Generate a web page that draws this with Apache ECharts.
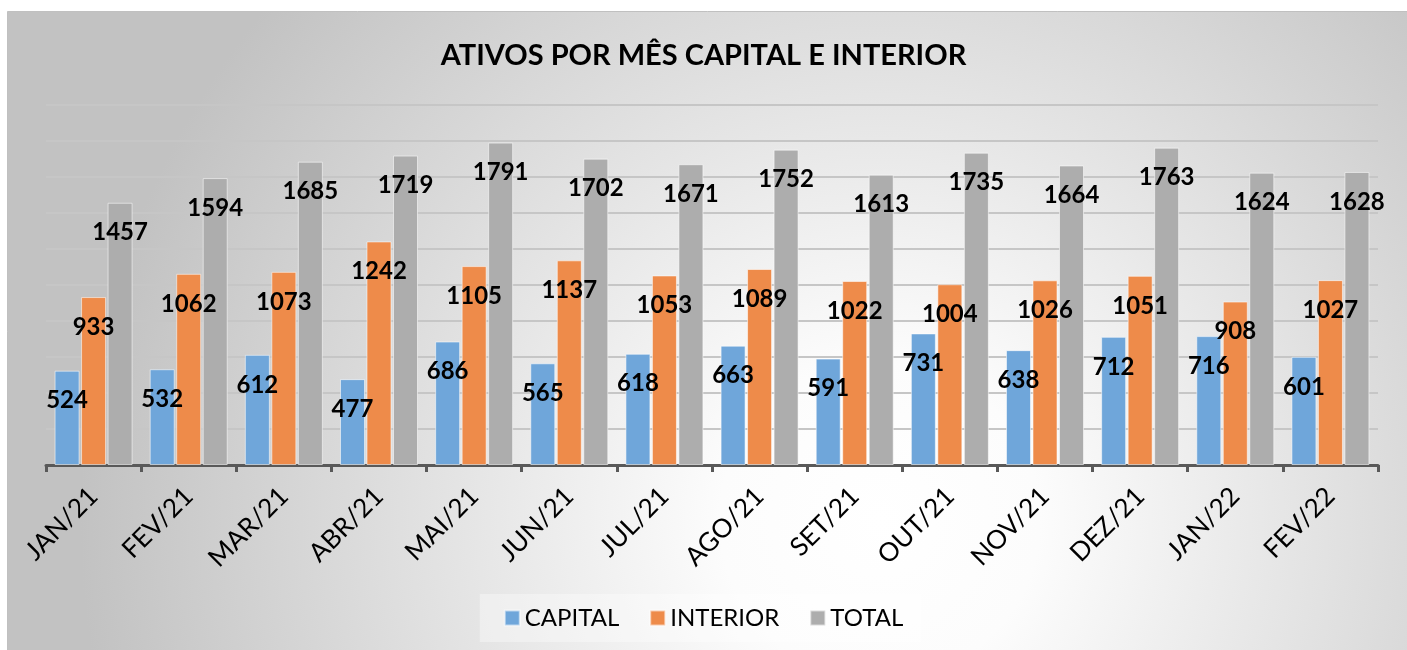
<!DOCTYPE html>
<html>
<head>
<meta charset="utf-8">
<script src="https://cdn.jsdelivr.net/npm/echarts@6/dist/echarts.min.js"></script>
<style>
  html, body { margin: 0; padding: 0; background: #fff; }
  #chart { width: 1407px; height: 650px; }
</style>
</head>
<body>
<div id="chart"></div>
<script>
// values
var months = ['JAN/21', 'FEV/21', 'MAR/21', 'ABR/21', 'MAI/21', 'JUN/21', 'JUL/21',
              'AGO/21', 'SET/21', 'OUT/21', 'NOV/21', 'DEZ/21', 'JAN/22', 'FEV/22'];
var capital  = [524, 532, 612, 477, 686, 565, 618, 663, 591, 731, 638, 712, 716, 601];
var interior = [933, 1062, 1073, 1242, 1105, 1137, 1053, 1089, 1022, 1004, 1026, 1051, 908, 1027];
var total    = [1457, 1594, 1685, 1719, 1791, 1702, 1671, 1752, 1613, 1735, 1664, 1763, 1624, 1628];

var font = 'Lato, "Open Sans", sans-serif';

function barSeries(name, data, color) {
  return {
    name: name,
    type: 'bar',
    data: data,
    barWidth: 25,
    barGap: '6%',
    itemStyle: {
      color: color,
      borderColor: 'rgba(255,255,255,0.55)',
      borderWidth: 1
    },
    label: {
      show: true,
      position: 'insideTop',
      distance: 18,
      color: '#000',
      fontFamily: font,
      fontWeight: 'bold',
      fontSize: 24
    }
  };
}

var chart = echarts.init(document.getElementById('chart'));
chart.setOption({
  backgroundColor: '#fff',
  graphic: [{
    type: 'rect',
    z: -10,
    silent: true,
    shape: { x: 7.5, y: 11.5, width: 1420, height: 660 },
    style: {
      fill: new echarts.graphic.RadialGradient(880, 520, 800, [
        { offset: 0, color: '#ffffff' },
        { offset: 0.2, color: '#fcfcfc' },
        { offset: 1, color: '#c2c2c2' }
      ], true),
      stroke: '#c0c0c0',
      lineWidth: 1
    }
  }],
  title: {
    text: 'ATIVOS POR MÊS CAPITAL E INTERIOR',
    left: 'center',
    top: 36,
    textStyle: { fontFamily: font, fontWeight: 'bold', fontSize: 29, color: '#000' }
  },
  legend: {
    bottom: 8,
    left: 'center',
    itemWidth: 15,
    itemHeight: 15,
    itemGap: 30,
    icon: 'rect',
    padding: [12, 18, 12, 24],
    backgroundColor: 'rgba(255,255,255,0.35)',
    textStyle: { fontFamily: font, fontSize: 24, color: '#000' },
    data: ['CAPITAL', 'INTERIOR', 'TOTAL']
  },
  grid: { left: 46, right: 29, top: 105, bottom: 185 },
  xAxis: {
    type: 'category',
    data: months,
    axisLine: { lineStyle: { color: '#595959', width: 3 } },
    axisTick: { show: true, length: 7, lineStyle: { color: '#595959', width: 3 } },
    axisLabel: {
      rotate: 45,
      margin: 27,
      color: '#000',
      fontFamily: font,
      fontSize: 26
    }
  },
  yAxis: {
    type: 'value',
    min: 0,
    max: 2000,
    interval: 200,
    axisLabel: { show: false },
    axisLine: { show: false },
    axisTick: { show: false },
    splitLine: { lineStyle: { color: '#c6c6c6', width: 2 } }
  },
  series: [
    barSeries('CAPITAL', capital, '#6fa6da'),
    barSeries('INTERIOR', interior, '#ee8b4a'),
    barSeries('TOTAL', total, '#adadad')
  ]
});
</script>
</body>
</html>
